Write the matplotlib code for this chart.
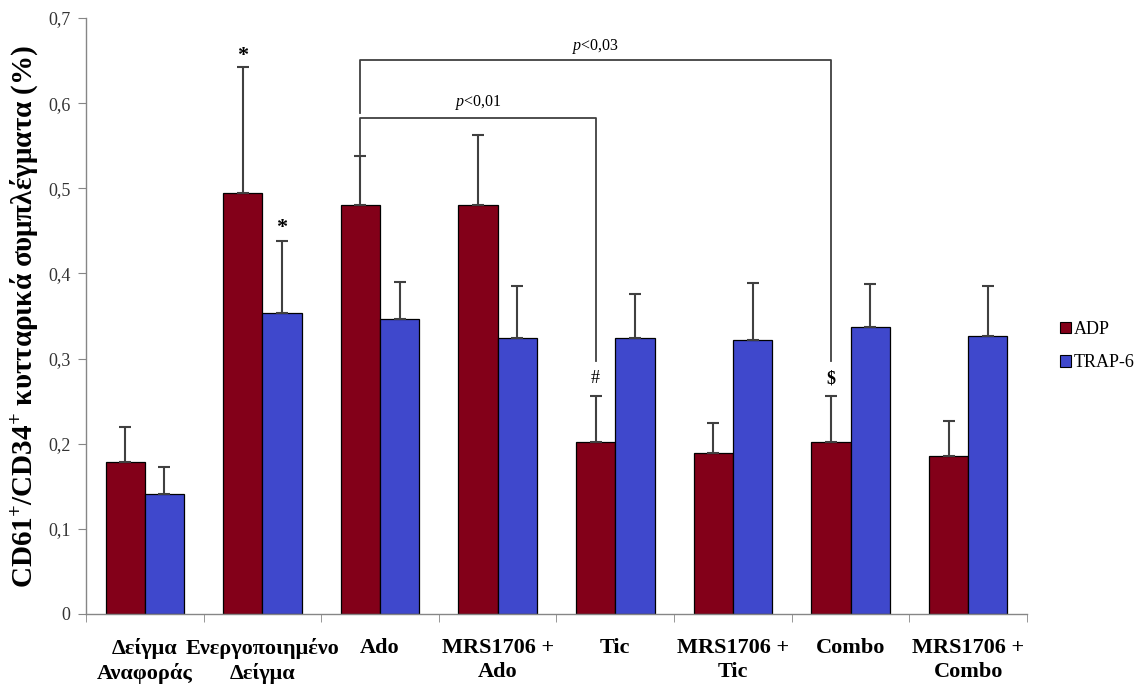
import matplotlib
matplotlib.use("Agg")
import matplotlib.pyplot as plt
from matplotlib.patches import Patch
import numpy as np

plt.rcParams['font.family'] = ['Liberation Serif', 'DejaVu Serif']
plt.rcParams['mathtext.fontset'] = 'custom'
plt.rcParams['mathtext.rm'] = 'Liberation Serif'
plt.rcParams['mathtext.it'] = 'Liberation Serif:italic'
plt.rcParams['mathtext.bf'] = 'Liberation Serif:bold'

# Data
categories = ["Δείγμα\nΑναφοράς", "Ενεργοποιημένο\nΔείγμα", "Ado", "MRS1706 +\nAdo",
              "Tic", "MRS1706 +\nTic", "Combo", "MRS1706 +\nCombo"]
adp = [0.178, 0.494, 0.480, 0.480, 0.202, 0.189, 0.202, 0.185]
adp_err = [0.042, 0.148, 0.058, 0.082, 0.054, 0.035, 0.054, 0.042]
trap = [0.141, 0.353, 0.347, 0.324, 0.324, 0.322, 0.337, 0.327]
trap_err = [0.032, 0.085, 0.043, 0.061, 0.052, 0.067, 0.051, 0.058]
series_names = ["ADP", "TRAP-6"]
yticks = [0, 0.1, 0.2, 0.3, 0.4, 0.5, 0.6, 0.7]
ytick_labels = ["0", "0,1", "0,2", "0,3", "0,4", "0,5", "0,6", "0,7"]

c_adp = "#830019"
c_trap = "#3F48CC"
grey = "#868686"
dark = "#404040"

fig = plt.figure(figsize=(11.42, 6.87), dpi=100)
ax = fig.add_axes([0.0753, 0.1063, 0.824, 0.8675])

x = np.arange(len(categories))
w = 0.334
ax.bar(x - w / 2, adp, w, color=c_adp, edgecolor="black", linewidth=0.9, zorder=2)
ax.bar(x + w / 2, trap, w, color=c_trap, edgecolor="black", linewidth=0.9, zorder=2)
zeros = np.zeros(len(categories))
ax.errorbar(x - w / 2, adp, yerr=[zeros, adp_err], fmt="none", ecolor=dark,
            elinewidth=1.5, capsize=4.5, capthick=1.5, zorder=3)
ax.errorbar(x + w / 2, trap, yerr=[zeros, trap_err], fmt="none", ecolor=dark,
            elinewidth=1.5, capsize=4.5, capthick=1.5, zorder=3)

ax.set_xlim(-0.5, len(categories) - 0.5)
ax.set_ylim(0, 0.7)
ax.set_yticks(yticks)
ax.set_yticklabels(ytick_labels, fontsize=13, color="#333333")
ax.set_xticks(x)
ax.set_xticklabels(categories, fontsize=16, fontweight="bold", linespacing=1.3)
ax.set_xticks(np.arange(len(categories) + 1) - 0.5, minor=True)
ax.tick_params(axis="x", which="major", length=0, pad=17)
ax.tick_params(axis="x", which="minor", length=6, color=grey, direction="out")
ax.tick_params(axis="y", length=6, color=grey, direction="out", pad=5)

for s in ["top", "right"]:
    ax.spines[s].set_visible(False)
for s in ["left", "bottom"]:
    ax.spines[s].set_color(grey)
    ax.spines[s].set_linewidth(1.0)

ax.set_ylabel(r"CD61$^{\mathbf{+}}$/CD34$^{\mathbf{+}}$ κυτταρικά συμπλέγματα (%)",
              fontsize=21, fontweight="bold", labelpad=6)

# Significance markers
ax.text(x[1] - w / 2, 0.655, "*", ha="center", va="center", fontsize=16, fontweight="bold")
ax.text(x[1] + w / 2, 0.453, "*", ha="center", va="center", fontsize=16, fontweight="bold")
ax.text(x[4] - w / 2, 0.277, "#", ha="center", va="center", fontsize=13)
ax.text(x[6] - w / 2, 0.276, "$", ha="center", va="center", fontsize=13, fontweight="bold")

# Comparison brackets
lw_b = 1.3
xa = x[2] - w / 2
xt = x[4] - w / 2
xc = x[6] - w / 2
ax.plot([xa, xa, xc, xc], [0.588, 0.651, 0.651, 0.297], color=dark, lw=lw_b, clip_on=False, zorder=4)
ax.plot([xa, xa, xt, xt], [0.540, 0.583, 0.583, 0.297], color=dark, lw=lw_b, clip_on=False, zorder=4)
ax.text((xa + xc) / 2, 0.666, r"$p$<0,03", ha="center", va="center", fontsize=11.5)
ax.text((xa + xt) / 2, 0.601, r"$p$<0,01", ha="center", va="center", fontsize=11.5)

handles = [Patch(facecolor=c_adp, edgecolor="black", linewidth=0.8),
           Patch(facecolor=c_trap, edgecolor="black", linewidth=0.8)]
fig.legend(handles, series_names, loc="center left", bbox_to_anchor=(0.917, 0.496),
           frameon=False, fontsize=13, handlelength=0.6, handleheight=0.6,
           handletextpad=0.15, labelspacing=0.9, borderaxespad=0.3)

fig.savefig("out.png", dpi=100)
